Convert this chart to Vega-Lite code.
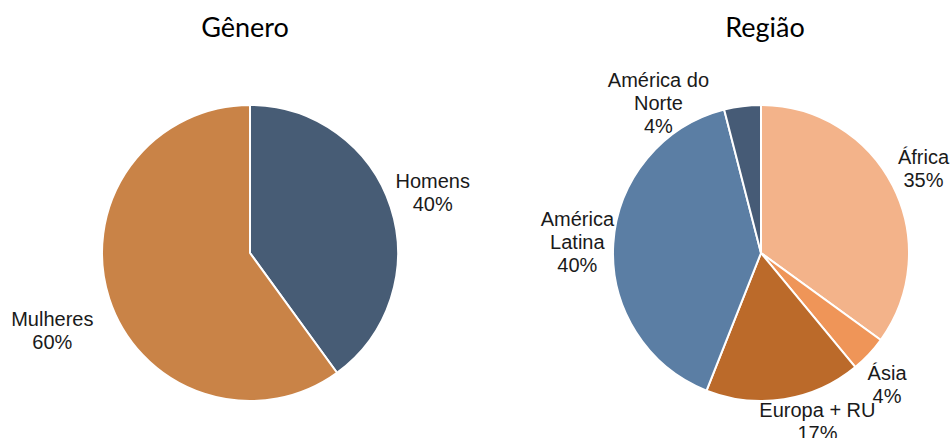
{
  "$schema": "https://vega.github.io/schema/vega-lite/v6.json",
  "padding": {"top": 15, "left": 0, "right": 0, "bottom": 0},
  "bounds": "flush",
  "spacing": 70,
  "background": "white",
  "resolve": {"scale": {"color": "independent", "theta": "independent"}},
  "config": {
    "view": {"stroke": null},
    "title": {"font": "Lato", "fontSize": 27, "fontWeight": "normal", "color": "#000000", "offset": 26, "anchor": "middle"},
    "text": {"font": "Liberation Sans", "fontSize": 20, "lineHeight": 23, "align": "center", "baseline": "middle", "color": "#1a1a1a", "lineBreak": "\n"}
  },
  "datasets": {
    "genero": [
      {"cat": "Homens", "pct": 40, "ord": 1},
      {"cat": "Mulheres", "pct": 60, "ord": 2}
    ],
    "regiao": [
      {"cat": "África", "pct": 35, "ord": 1},
      {"cat": "Ásia", "pct": 4, "ord": 2},
      {"cat": "Europa + RU", "pct": 17, "ord": 3},
      {"cat": "América\nLatina", "pct": 40, "ord": 4},
      {"cat": "América do\nNorte", "pct": 4, "ord": 5}
    ]
  },
  "hconcat": [
    {
      "width": 500,
      "height": 368,
      "title": {"text": "Gênero", "dx": -5},
      "data": {"name": "genero"},
      "transform": [
        {"calculate": "datum.cat + '\\n' + datum.pct + '%'", "as": "label"},
        {"window": [{"op": "sum", "field": "pct", "as": "cum"}], "sort": [{"field": "ord"}]},
        {"calculate": "datum.cum - datum.pct / 2", "as": "mid"}
      ],
      "layer": [
        {
          "mark": {"type": "arc", "outerRadius": 148, "stroke": "white", "strokeWidth": 2},
          "encoding": {
            "theta": {"field": "pct", "type": "quantitative", "stack": true, "scale": {"domain": [0, 100]}},
            "order": {"field": "ord", "type": "quantitative"},
            "color": {"field": "cat", "type": "nominal", "scale": {"domain": ["Homens", "Mulheres"], "range": ["#475C75", "#C98347"]}, "legend": null}
          }
        },
        {
          "transform": [{"filter": "datum.cat == 'Homens'"}],
          "mark": {"type": "text", "radius": 190, "dx": 2, "dy": -12},
          "encoding": {
            "theta": {"field": "mid", "type": "quantitative", "stack": null, "scale": {"domain": [0, 100]}},
            "text": {"field": "label", "type": "nominal"}
          }
        },
        {
          "transform": [{"filter": "datum.cat == 'Mulheres'"}],
          "mark": {"type": "text", "radius": 190, "dx": -17, "dy": 8},
          "encoding": {
            "theta": {"field": "mid", "type": "quantitative", "stack": null, "scale": {"domain": [0, 100]}},
            "text": {"field": "label", "type": "nominal"}
          }
        }
      ]
    },
    {
      "width": 382,
      "height": 368,
      "title": {"text": "Região", "dx": 4},
      "data": {"name": "regiao"},
      "transform": [
        {"calculate": "datum.cat + '\\n' + datum.pct + '%'", "as": "label"},
        {"window": [{"op": "sum", "field": "pct", "as": "cum"}], "sort": [{"field": "ord"}]},
        {"calculate": "datum.cum - datum.pct / 2", "as": "mid"}
      ],
      "layer": [
        {
          "mark": {"type": "arc", "outerRadius": 148, "stroke": "white", "strokeWidth": 2},
          "encoding": {
            "theta": {"field": "pct", "type": "quantitative", "stack": true, "scale": {"domain": [0, 100]}},
            "order": {"field": "ord", "type": "quantitative"},
            "color": {"field": "cat", "type": "nominal", "scale": {"domain": ["África", "Ásia", "Europa + RU", "América\nLatina", "América do\nNorte"], "range": ["#F3B38A", "#EF9558", "#BB6A2A", "#5B7EA4", "#465B76"]}, "legend": null}
          }
        },
        {
          "transform": [{"filter": "datum.ord == 1"}],
          "mark": {"type": "text", "radius": 188, "dx": -5, "dy": -10},
          "encoding": {
            "theta": {"field": "mid", "type": "quantitative", "stack": null, "scale": {"domain": [0, 100]}},
            "text": {"field": "label", "type": "nominal"}
          }
        },
        {
          "transform": [{"filter": "datum.ord == 4"}],
          "mark": {"type": "text", "radius": 188, "dx": 4, "dy": -21},
          "encoding": {
            "theta": {"field": "mid", "type": "quantitative", "stack": null, "scale": {"domain": [0, 100]}},
            "text": {"field": "label", "type": "nominal"}
          }
        },
        {
          "transform": [{"filter": "datum.ord == 2"}],
          "mark": {"type": "text", "radius": 188, "dx": -11, "dy": -8},
          "encoding": {
            "theta": {"field": "mid", "type": "quantitative", "stack": null, "scale": {"domain": [0, 100]}},
            "text": {"field": "label", "type": "nominal"}
          }
        },
        {
          "transform": [{"filter": "datum.ord == 3"}],
          "mark": {"type": "text", "radius": 188, "dx": 27, "dy": -28},
          "encoding": {
            "theta": {"field": "mid", "type": "quantitative", "stack": null, "scale": {"domain": [0, 100]}},
            "text": {"field": "label", "type": "nominal"}
          }
        },
        {
          "transform": [{"filter": "datum.ord == 5"}],
          "mark": {"type": "text", "radius": 188, "dx": -79, "dy": 15},
          "encoding": {
            "theta": {"field": "mid", "type": "quantitative", "stack": null, "scale": {"domain": [0, 100]}},
            "text": {"field": "label", "type": "nominal"}
          }
        }
      ]
    }
  ]
}
